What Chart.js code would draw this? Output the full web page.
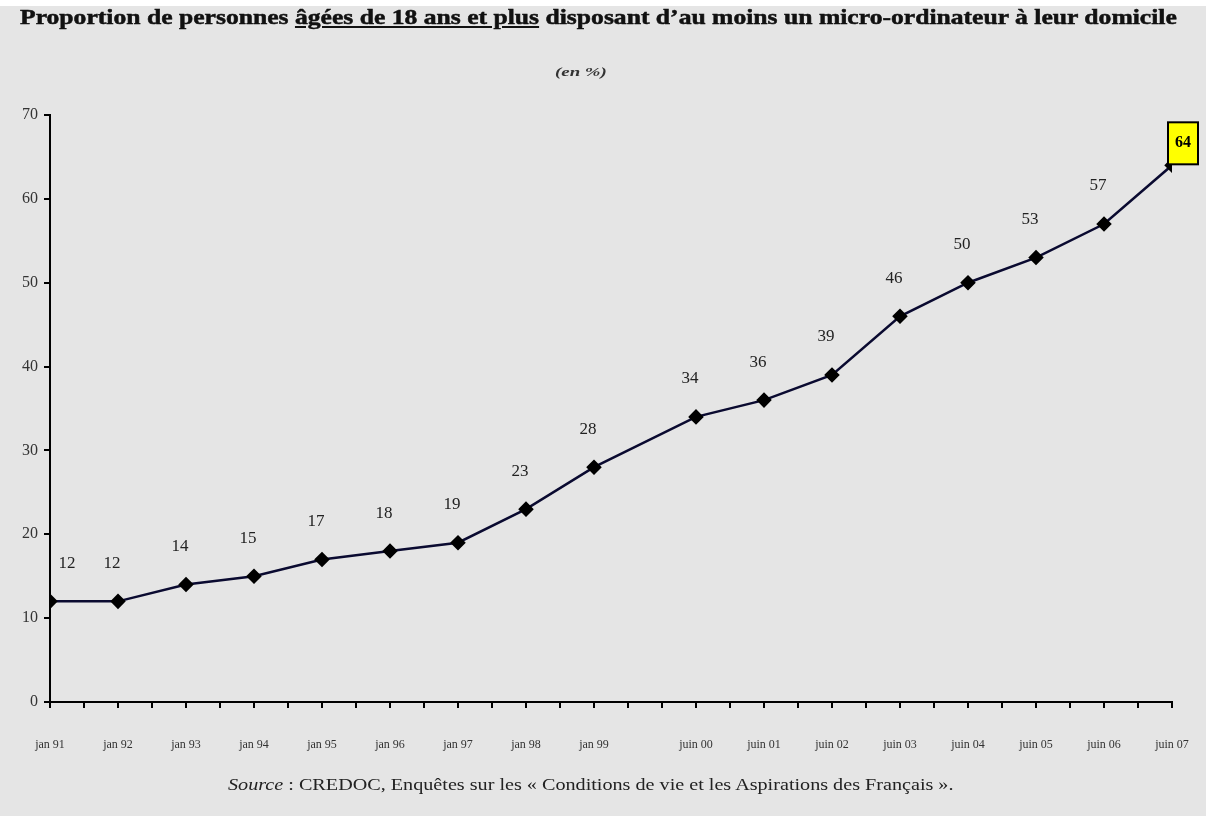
<!DOCTYPE html>
<html>
<head>
<meta charset="utf-8">
<script src="https://cdn.jsdelivr.net/npm/chart.js@4.4.1/dist/chart.umd.min.js"></script>
<style>
  html, body { margin: 0; padding: 0; background: #fff; }
  #wrap { position: relative; width: 1206px; height: 816px; background: #e5e5e5; overflow: hidden; }
  #top { position: absolute; left: 0; top: 0; width: 1206px; height: 6px; background: #fff; }
  canvas { position: absolute; left: 0; top: 0; }
  .txt { position: absolute; font-family: "Liberation Serif", "DejaVu Serif", serif; color: #111; white-space: nowrap; transform-origin: left top; }
  #titre { left: 20px; top: 5px; font-size: 21px; font-weight: bold; transform: scaleX(1.22); -webkit-text-stroke: 0.5px #111; }
  #sous { left: 555px; top: 64px; font-size: 13px; font-weight: bold; font-style: italic; color: #333; transform: scaleX(1.45); }
  #source { left: 228px; top: 776px; font-size: 16px; color: #222; transform: scaleX(1.26); }
</style>
</head>
<body>
<div id="wrap">
  <div id="top"></div>
  <canvas id="graphique" width="1206" height="816"></canvas>
  <div class="txt" id="titre">Proportion de personnes <u>âgées de 18 ans et plus</u> disposant d’au moins un micro-ordinateur à leur domicile</div>
  <div class="txt" id="sous">(en %)</div>
  <div class="txt" id="source"><i>Source</i> : CREDOC, Enquêtes sur les « Conditions de vie et les Aspirations des Français ».</div>
</div>
<script>
// dates d'enquête (en années décimales) et libellés
const annees = [1991, 1992, 1993, 1994, 1995, 1996, 1997, 1998, 1999,
                2000.5, 2001.5, 2002.5, 2003.5, 2004.5, 2005.5, 2006.5, 2007.5];
const libelles = ['jan 91', 'jan 92', 'jan 93', 'jan 94', 'jan 95', 'jan 96', 'jan 97', 'jan 98', 'jan 99',
                  'juin 00', 'juin 01', 'juin 02', 'juin 03', 'juin 04', 'juin 05', 'juin 06', 'juin 07'];
const valeurs = [12, 12, 14, 15, 17, 18, 19, 23, 28, 34, 36, 39, 46, 50, 53, 57, 64];
const graduationsY = [0, 10, 20, 30, 40, 50, 60, 70];

const points = annees.map((a, i) => ({ x: a, y: valeurs[i] }));

// étiquettes de valeurs au-dessus des points, la dernière dans un cadre jaune
const etiquettes = {
  id: 'etiquettes',
  afterDatasetsDraw(chart) {
    const ctx = chart.ctx;
    const meta = chart.getDatasetMeta(0);
    const gauche = chart.chartArea.left;
    ctx.save();
    ctx.textAlign = 'center';
    ctx.textBaseline = 'middle';
    meta.data.forEach((pt, i) => {
      const v = valeurs[i];
      if (i === valeurs.length - 1) {
        const bx = pt.x - 4, by = pt.y - 43;
        ctx.fillStyle = '#ffff00';
        ctx.fillRect(bx, by, 30, 42);
        ctx.strokeStyle = '#000';
        ctx.lineWidth = 2;
        ctx.strokeRect(bx, by, 30, 42);
        ctx.fillStyle = '#000';
        ctx.font = 'bold 16px "Liberation Serif", serif';
        ctx.fillText(String(v), bx + 15, by + 21);
      } else {
        let lx = pt.x - 6;
        if (lx - 12 < gauche) lx = gauche + 17;
        ctx.fillStyle = '#222';
        ctx.font = '17px "Liberation Serif", serif';
        ctx.fillText(String(v), lx, pt.y - 38);
      }
    });
    ctx.restore();
  }
};

new Chart(document.getElementById('graphique').getContext('2d'), {
  type: 'line',
  data: {
    datasets: [{
      data: points,
      borderColor: '#0a0a30',
      borderWidth: 2.5,
      backgroundColor: '#000',
      pointStyle: 'rectRot',
      pointRadius: 6,
      pointBackgroundColor: '#000',
      pointBorderColor: '#000',
      tension: 0,
      fill: false
    }]
  },
  options: {
    responsive: false,
    animation: false,
    layout: { padding: { left: 0, top: 115, right: 34, bottom: 0 } },
    plugins: {
      legend: { display: false },
      tooltip: { enabled: false }
    },
    scales: {
      x: {
        type: 'linear',
        min: 1991,
        max: 2007.5,
        afterBuildTicks(scale) {
          const t = [];
          for (let v = 1991; v <= 2007.5 + 1e-6; v += 0.5) t.push({ value: v });
          scale.ticks = t;
        },
        afterFit(scale) {
          scale.height = 114;
          scale.paddingLeft = 0;
          scale.paddingRight = 0;
        },
        ticks: {
          autoSkip: false,
          maxRotation: 0,
          padding: 30,
          color: '#333',
          font: { family: '"Liberation Serif", serif', size: 12 },
          callback(v) {
            const i = annees.findIndex(a => Math.abs(a - v) < 0.01);
            return i >= 0 ? libelles[i] : '';
          }
        },
        grid: { drawOnChartArea: false, drawTicks: true, tickLength: 6, color: '#000', lineWidth: 2 },
        border: { color: '#000', width: 2 }
      },
      y: {
        min: 0,
        max: 70,
        afterBuildTicks(scale) { scale.ticks = graduationsY.map(v => ({ value: v })); },
        afterFit(scale) { scale.width = 50; },
        ticks: {
          padding: 6,
          color: '#333',
          font: { family: '"Liberation Serif", serif', size: 16 }
        },
        grid: { drawOnChartArea: false, drawTicks: true, tickLength: 6, color: '#000', lineWidth: 2 },
        border: { color: '#000', width: 2 }
      }
    }
  },
  plugins: [etiquettes]
});
</script>
</body>
</html>
